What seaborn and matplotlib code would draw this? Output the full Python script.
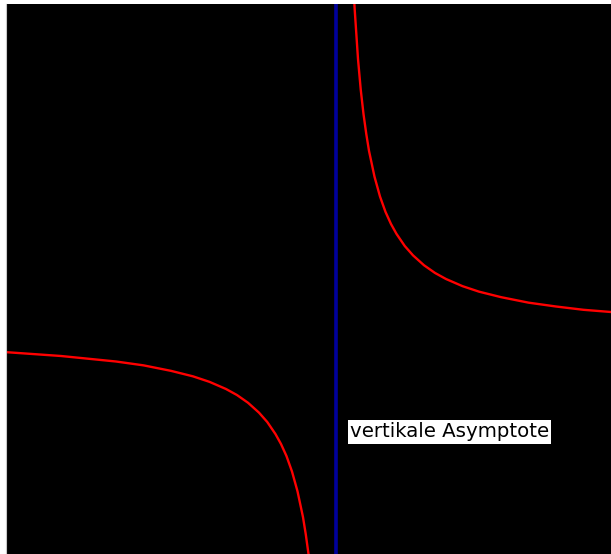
import matplotlib
matplotlib.use("Agg")
import matplotlib.pyplot as plt
import seaborn as sns
import pandas as pd

# points (right and left branch of the hyperbola)
right_x = [0.32, 0.34, 0.4, 0.45, 0.5, 0.55, 0.6, 0.7, 0.8, 0.9, 1.0, 1.1, 1.25, 1.4, 1.6, 1.8, 2.0, 2.3, 2.6, 3.0, 3.5, 4.0, 4.5, 5.0]
right_y = [6.25, 5.9, 5.0, 4.44, 4.0, 3.64, 3.33, 2.86, 2.5, 2.22, 2.0, 1.82, 1.6, 1.43, 1.25, 1.11, 1.0, 0.87, 0.77, 0.67, 0.57, 0.5, 0.44, 0.4]
left_x = [-6.0, -5.0, -4.0, -3.5, -3.0, -2.6, -2.3, -2.0, -1.8, -1.6, -1.4, -1.25, -1.1, -1.0, -0.9, -0.8, -0.7, -0.6, -0.55, -0.5, -0.47]
left_y = [-0.33, -0.4, -0.5, -0.57, -0.67, -0.77, -0.87, -1.0, -1.11, -1.25, -1.43, -1.6, -1.82, -2.0, -2.22, -2.5, -2.86, -3.33, -3.64, -4.0, -4.25]
asymptote_x = 0.0
label_text = "vertikale Asymptote"

right = pd.DataFrame({"x": right_x, "y": right_y})
left = pd.DataFrame({"x": left_x, "y": left_y})

fig = plt.figure(figsize=(6.11, 5.54), dpi=100)
ax = fig.add_axes([6 / 611, 0, 605 / 611, 550 / 554])
ax.set_facecolor("black")

sns.lineplot(data=right, x="x", y="y", sort=False, color="red", linewidth=1.7, ax=ax)
sns.lineplot(data=left, x="x", y="y", sort=False, color="red", linewidth=1.7, ax=ax)
ax.axvline(asymptote_x, color="#00009c", linewidth=2.6)

ax.text(0.25, -1.78, label_text, fontsize=14.2, color="black", va="center", ha="left",
        bbox=dict(facecolor="white", edgecolor="none", pad=1.5))

ax.set_xlim(-6, 5)
ax.set_ylim(-4, 6)
ax.set_xticks([])
ax.set_yticks([])
ax.set_xlabel("")
ax.set_ylabel("")
for side in ["top", "right", "bottom"]:
    ax.spines[side].set_visible(False)
ax.spines["left"].set_color("#c8c8c8")
ax.spines["left"].set_linewidth(0.8)

fig.savefig("out.png", dpi=100, facecolor="white")
